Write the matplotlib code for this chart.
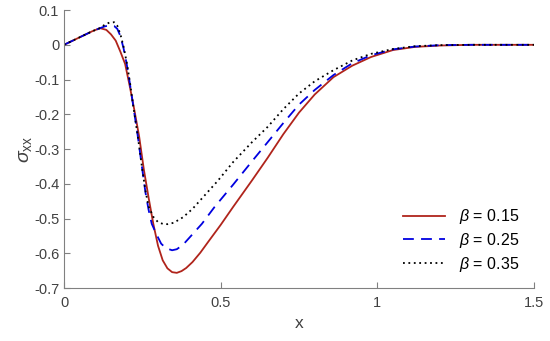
import matplotlib
matplotlib.use("Agg")
import matplotlib.pyplot as plt

plt.rcParams['font.family'] = ['Liberation Sans', 'DejaVu Sans']
plt.rcParams['mathtext.fontset'] = 'custom'
plt.rcParams['mathtext.rm'] = 'Liberation Sans'
plt.rcParams['mathtext.it'] = 'Liberation Sans:italic'
plt.rcParams['axes.unicode_minus'] = False

# beta = 0.15
x1 = [0, 0.03, 0.06, 0.09, 0.115, 0.135, 0.15, 0.165, 0.18, 0.195, 0.21, 0.225, 0.24, 0.255,
      0.27, 0.285, 0.30, 0.315, 0.33, 0.345, 0.36, 0.375, 0.39, 0.41, 0.435, 0.46, 0.5, 0.54,
      0.6, 0.65, 0.7, 0.75, 0.8, 0.86, 0.92, 0.98, 1.05, 1.12, 1.2, 1.3, 1.4, 1.5]
y1 = [0, 0.013, 0.026, 0.039, 0.048, 0.043, 0.03, 0.012, -0.02, -0.055, -0.12, -0.19, -0.265, -0.36,
      -0.44, -0.515, -0.578, -0.62, -0.643, -0.654, -0.656, -0.651, -0.642, -0.625, -0.598, -0.567, -0.518, -0.466,
      -0.39, -0.325, -0.257, -0.195, -0.143, -0.093, -0.06, -0.035, -0.015, -0.006, -0.002, 0, 0, 0]

# beta = 0.25
x2 = [0, 0.03, 0.06, 0.09, 0.115, 0.13, 0.145, 0.16, 0.17, 0.18, 0.19, 0.2, 0.21, 0.22, 0.235,
      0.25, 0.26, 0.27, 0.28, 0.295, 0.31, 0.325, 0.345, 0.36, 0.38, 0.40, 0.44, 0.48, 0.54,
      0.6, 0.65, 0.7, 0.75, 0.8, 0.86, 0.92, 0.98, 1.05, 1.12, 1.2, 1.3, 1.4, 1.5]
y2 = [0, 0.013, 0.026, 0.039, 0.048, 0.053, 0.056, 0.054, 0.046, 0.025, -0.01, -0.055, -0.11, -0.17, -0.26,
      -0.36, -0.425, -0.475, -0.515, -0.545, -0.572, -0.585, -0.591, -0.588, -0.575, -0.555, -0.515, -0.467, -0.402,
      -0.335, -0.28, -0.225, -0.172, -0.13, -0.087, -0.053, -0.03, -0.013, -0.005, -0.001, 0, 0, 0]

# beta = 0.35
x3 = [0, 0.03, 0.06, 0.09, 0.115, 0.13, 0.145, 0.16, 0.17, 0.18, 0.19, 0.2, 0.21, 0.22, 0.235,
      0.25, 0.26, 0.27, 0.285, 0.3, 0.315, 0.33, 0.35, 0.38, 0.41, 0.43, 0.49, 0.54,
      0.6, 0.65, 0.7, 0.75, 0.8, 0.86, 0.92, 0.98, 1.05, 1.12, 1.2, 1.3, 1.4, 1.5]
y3 = [0, 0.013, 0.026, 0.039, 0.048, 0.058, 0.064, 0.065, 0.055, 0.03, -0.005, -0.05, -0.105, -0.17, -0.26,
      -0.36, -0.42, -0.465, -0.495, -0.51, -0.515, -0.516, -0.512, -0.496, -0.472, -0.452, -0.392, -0.337,
      -0.28, -0.236, -0.185, -0.14, -0.105, -0.073, -0.045, -0.026, -0.012, -0.004, -0.001, 0, 0, 0]

labels = [r'$\beta$ = 0.15', r'$\beta$ = 0.25', r'$\beta$ = 0.35']
xticks = [0, 0.5, 1, 1.5]
xticklabels = ['0', '0.5', '1', '1.5']
yticks = [0.1, 0, -0.1, -0.2, -0.3, -0.4, -0.5, -0.6, -0.7]
yticklabels = ['0.1', '0', '-0.1', '-0.2', '-0.3', '-0.4', '-0.5', '-0.6', '-0.7']

fig = plt.figure(figsize=(5.5, 3.41), dpi=100)
ax = fig.add_axes([0.1164, 0.155, 0.8545, 0.8155])

ax.plot(x1, y1, color='#B0241B', lw=1.3, ls='-', label=labels[0])
ax.plot(x2, y2, color='#0000E0', lw=1.3, ls=(0, (6, 4)), label=labels[1])
ax.plot(x3, y3, color='black', lw=1.3, ls=(0, (1, 2)), label=labels[2])

ax.set_xlim(0, 1.5)
ax.set_ylim(-0.7, 0.1)
ax.set_xticks(xticks)
ax.set_xticklabels(xticklabels)
ax.set_yticks(yticks)
ax.set_yticklabels(yticklabels)

for s in ['top', 'right']:
    ax.spines[s].set_visible(False)
for s in ['left', 'bottom']:
    ax.spines[s].set_color('#808080')
    ax.spines[s].set_linewidth(0.8)
ax.tick_params(direction='in', length=4, color='#808080', labelcolor='#404040', labelsize=10.5)
ax.tick_params(axis='x', pad=6)

ax.set_xlabel('x', fontsize=12.5, color='#404040', labelpad=4)
ax.set_ylabel(r'$\sigma_{\rm xx}$', fontsize=14, color='#404040', labelpad=0)

leg = ax.legend(loc='lower right', bbox_to_anchor=(1.0, 0.0), frameon=False, fontsize=11.5,
                handlelength=2.6, handletextpad=0.9, labelspacing=0.3)

fig.savefig('out.png', dpi=100)
